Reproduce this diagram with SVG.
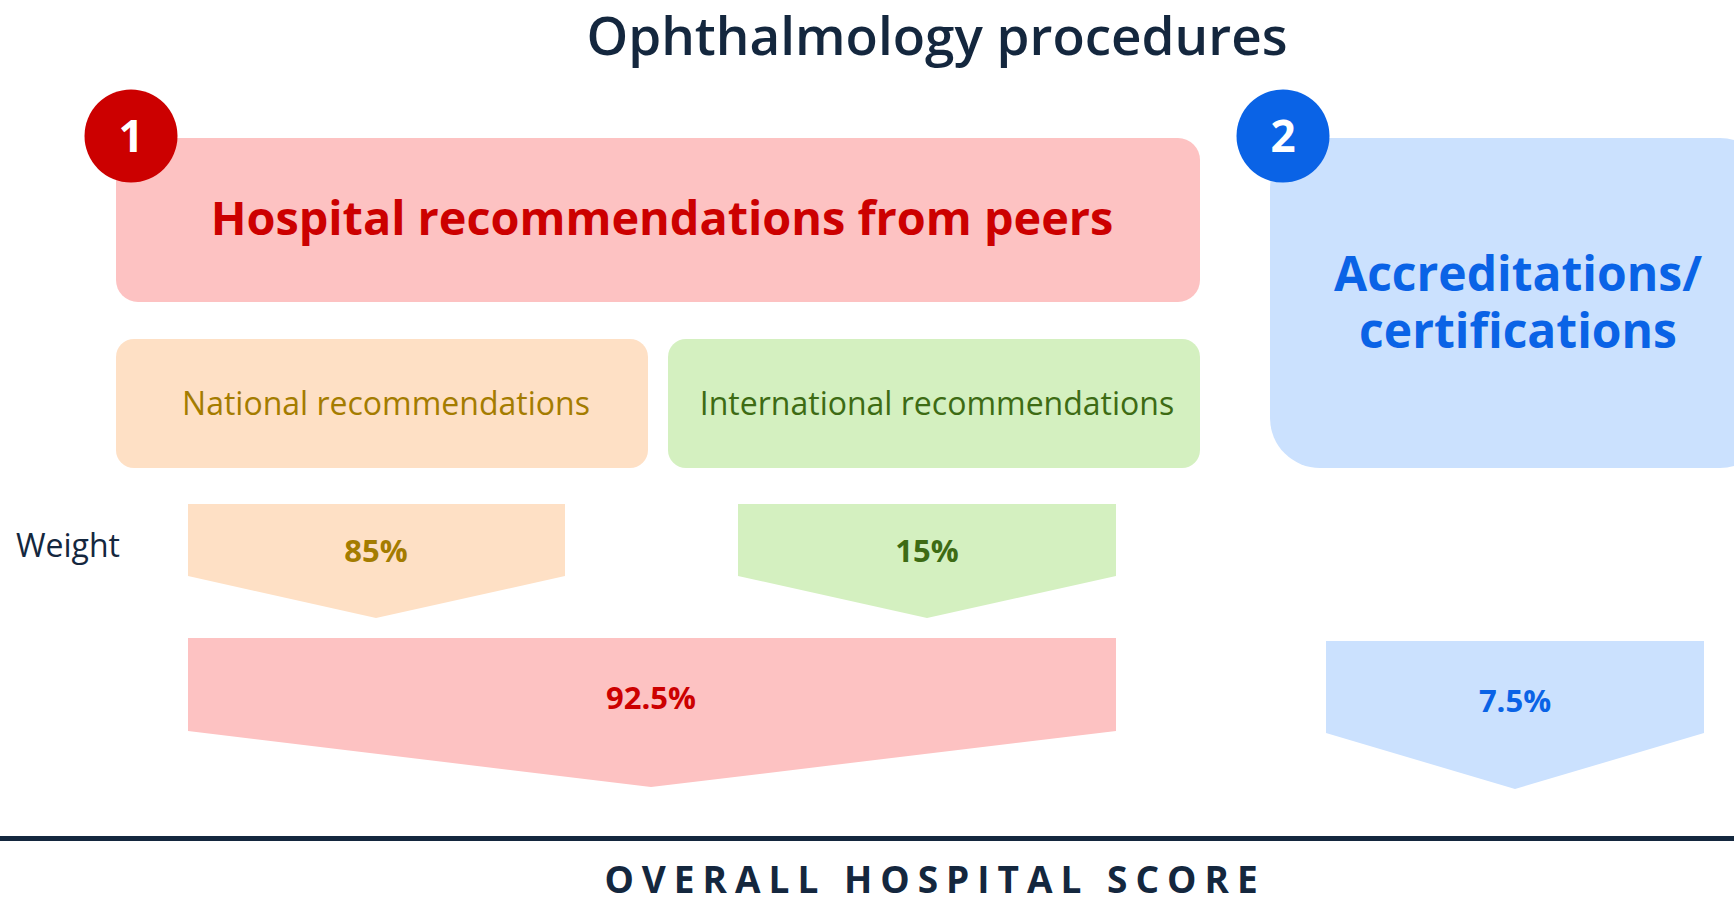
<svg xmlns="http://www.w3.org/2000/svg" width="1734" height="920" viewBox="0 0 1734 920">
<style>
text{font-family:"Open Sans","Noto Sans","Liberation Sans",sans-serif;text-anchor:middle}
.navy{fill:#14273e}
.red{fill:#cc0000}
.blue{fill:#0a63e6}
.gold{fill:#a47c00}
.green{fill:#3d6b14}
.fred{fill:#fdc2c2}
.fblue{fill:#cbe1fe}
.fpeach{fill:#fee0c5}
.fgreen{fill:#d4f0c0}
.b{font-weight:700}
</style>
<rect width="1734" height="920" fill="#ffffff"/>
<text id="title" class="navy" x="937" y="55" font-size="53" font-weight="600">Ophthalmology procedures</text>
<g id="node-peers">
<rect class="fred" x="116" y="138" width="1084" height="164" rx="22"/>
<text class="red b" x="662" y="235" font-size="46.8">Hospital recommendations from peers</text>
</g>
<g id="badge-1">
<circle cx="131" cy="136" r="46.5" fill="#cc0000"/>
<text x="131" y="152" font-size="44" class="b" fill="#ffffff">1</text>
</g>
<g id="node-accreditations">
<rect class="fblue" x="1270" y="138" width="500" height="330" rx="50"/>
<text class="blue b" x="1518" y="291" font-size="48">Accreditations/</text>
<text class="blue b" x="1518" y="348" font-size="48">certifications</text>
</g>
<g id="badge-2">
<circle cx="1283" cy="136" r="46.5" fill="#0a63e6"/>
<text x="1283" y="152" font-size="44" class="b" fill="#ffffff">2</text>
</g>
<g id="node-national">
<rect class="fpeach" x="116" y="339" width="532" height="129" rx="18"/>
<text class="gold" x="386" y="415" font-size="32">National recommendations</text>
</g>
<g id="node-international">
<rect class="fgreen" x="668" y="339" width="532" height="129" rx="18"/>
<text class="green" x="937" y="415" font-size="32">International recommendations</text>
</g>
<text id="weight-label" class="navy" x="68" y="557" font-size="32">Weight</text>
<g id="connectors">
<g id="arrow-85">
<polygon class="fpeach" points="188,504 565,504 565,576 376,618 188,576"/>
<text class="gold b" x="376" y="562" font-size="31">85%</text>
</g>
<g id="arrow-15">
<polygon class="fgreen" points="738,504 1116,504 1116,576 927,618 738,576"/>
<text class="green b" x="927" y="562" font-size="31">15%</text>
</g>
<g id="arrow-925">
<polygon class="fred" points="188,638 1116,638 1116,731 651,787 188,731"/>
<text class="red b" x="651" y="709" font-size="31">92.5%</text>
</g>
<g id="arrow-75">
<polygon class="fblue" points="1326,641 1704,641 1704,733 1515,789 1326,733"/>
<text class="blue b" x="1515" y="712" font-size="31">7.5%</text>
</g>
</g>
<rect id="baseline" x="0" y="836" width="1734" height="5" fill="#14273e"/>
<text id="overall" class="navy b" x="935" y="893" font-size="37" letter-spacing="8">OVERALL HOSPITAL SCORE</text>
</svg>
